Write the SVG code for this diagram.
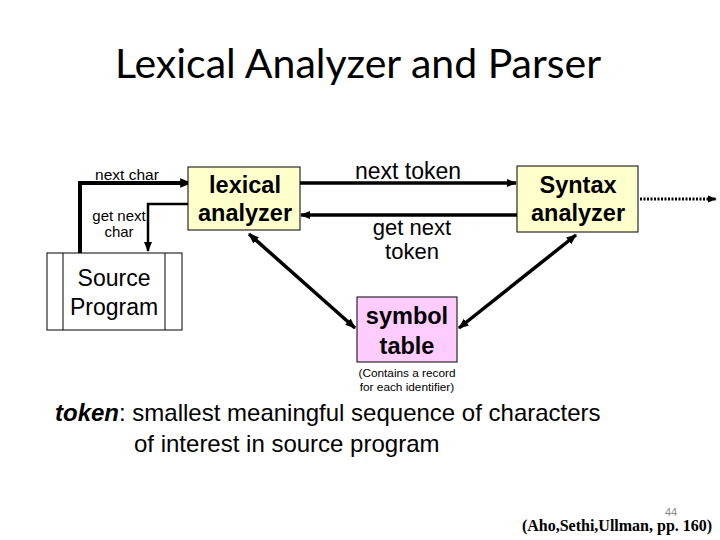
<svg xmlns="http://www.w3.org/2000/svg" width="720" height="540" viewBox="0 0 720 540">
<defs>
<style>
.t{font-family:"Liberation Sans",Arial,sans-serif;fill:#000}
.b{font-weight:bold}
.box{stroke:#000;stroke-width:1}
.ln{fill:none;stroke:#000}
</style>
<marker id="ah" viewBox="0 0 10 10" refX="9" refY="5" markerWidth="3" markerHeight="3" orient="auto-start-reverse" markerUnits="strokeWidth"><path d="M0,1 L10,5 L0,9 z" fill="#000"/></marker>
<marker id="ah2" viewBox="0 0 10 10" refX="9" refY="5" markerWidth="4" markerHeight="4" orient="auto-start-reverse" markerUnits="strokeWidth"><path d="M0,1 L10,5 L0,9 z" fill="#000"/></marker>
</defs>
<rect width="720" height="540" fill="#fff"/>
<text x="358" y="78" text-anchor="middle" style="font-family:Lato,'Open Sans',sans-serif;font-size:41px" fill="#000">Lexical Analyzer and Parser</text>

<g id="connectors">
<path class="ln" d="M80,253 V183 H191" stroke-width="4" marker-end="url(#ah)"/>
<path class="ln" d="M189,204 H148 V251" stroke-width="2.5" marker-end="url(#ah2)"/>
<path class="ln" d="M300,183 H516" stroke-width="3.5" marker-end="url(#ah)"/>
<path class="ln" d="M517,215 H301" stroke-width="3.5" marker-end="url(#ah)"/>
<path class="ln" d="M249,234 L355,328" stroke-width="3.5" marker-start="url(#ah)" marker-end="url(#ah)"/>
<path class="ln" d="M459,328 L576,235" stroke-width="3.5" marker-start="url(#ah)" marker-end="url(#ah)"/>
<path class="ln" d="M640,199 H716" stroke-width="3" stroke-dasharray="2,1.5" marker-end="url(#ah)"/>
</g>
<g id="label-next-char"><text class="t" x="127" y="180" text-anchor="middle" font-size="15.5">next char</text></g>
<g id="label-get-next-char"><text class="t" x="119" y="221" text-anchor="middle" font-size="15">get next</text><text class="t" x="119" y="237" text-anchor="middle" font-size="15">char</text></g>
<g id="label-next-token"><text class="t" x="408" y="179" text-anchor="middle" font-size="23">next token</text></g>
<g id="label-get-next-token"><text class="t" x="412" y="235" text-anchor="middle" font-size="22">get next</text><text class="t" x="412" y="259" text-anchor="middle" font-size="22">token</text></g>

<g id="source-program">
<rect class="box" x="47" y="253" width="135" height="77" fill="#fff"/>
<line x1="63" y1="253" x2="63" y2="330" stroke="#000"/>
<line x1="165" y1="253" x2="165" y2="330" stroke="#000"/>
<text class="t" x="114" y="286" text-anchor="middle" font-size="23">Source</text>
<text class="t" x="114" y="315" text-anchor="middle" font-size="23">Program</text>
</g>
<g id="lexical-analyzer">
<rect class="box" x="188" y="167" width="112" height="63" fill="#FFFFCC"/>
<text class="t b" x="245" y="193" text-anchor="middle" font-size="23.5">lexical</text>
<text class="t b" x="245" y="221" text-anchor="middle" font-size="23.5">analyzer</text>
</g>
<g id="syntax-analyzer">
<rect class="box" x="517" y="166" width="121" height="66" fill="#FFFFCC"/>
<text class="t b" x="578" y="193" text-anchor="middle" font-size="23.5">Syntax</text>
<text class="t b" x="578" y="221" text-anchor="middle" font-size="23.5">analyzer</text>
</g>
<g id="symbol-table">
<rect class="box" x="357" y="297" width="100" height="65" fill="#FFCCFF"/>
<text class="t b" x="407" y="324" text-anchor="middle" font-size="23.5">symbol</text>
<text class="t b" x="407" y="354" text-anchor="middle" font-size="23.5">table</text>
<text class="t" x="407" y="377" text-anchor="middle" font-size="11.8">(Contains a record</text>
<text class="t" x="407" y="391" text-anchor="middle" font-size="11.8">for each identifier)</text>
</g>
<text class="t" x="55" y="421" font-size="24"><tspan font-weight="bold" font-style="italic">token</tspan>: smallest meaningful sequence of characters</text>
<text class="t" x="134" y="452" font-size="24">of interest in source program</text>
<text x="671" y="516" text-anchor="middle" style="font-family:'Liberation Sans',sans-serif;font-size:11px" fill="#888">44</text>
<text x="617" y="531" text-anchor="middle" style="font-family:'Liberation Serif','Times New Roman',serif;font-size:16px;font-weight:bold" fill="#000">(Aho,Sethi,Ullman, pp. 160)</text>
</svg>
